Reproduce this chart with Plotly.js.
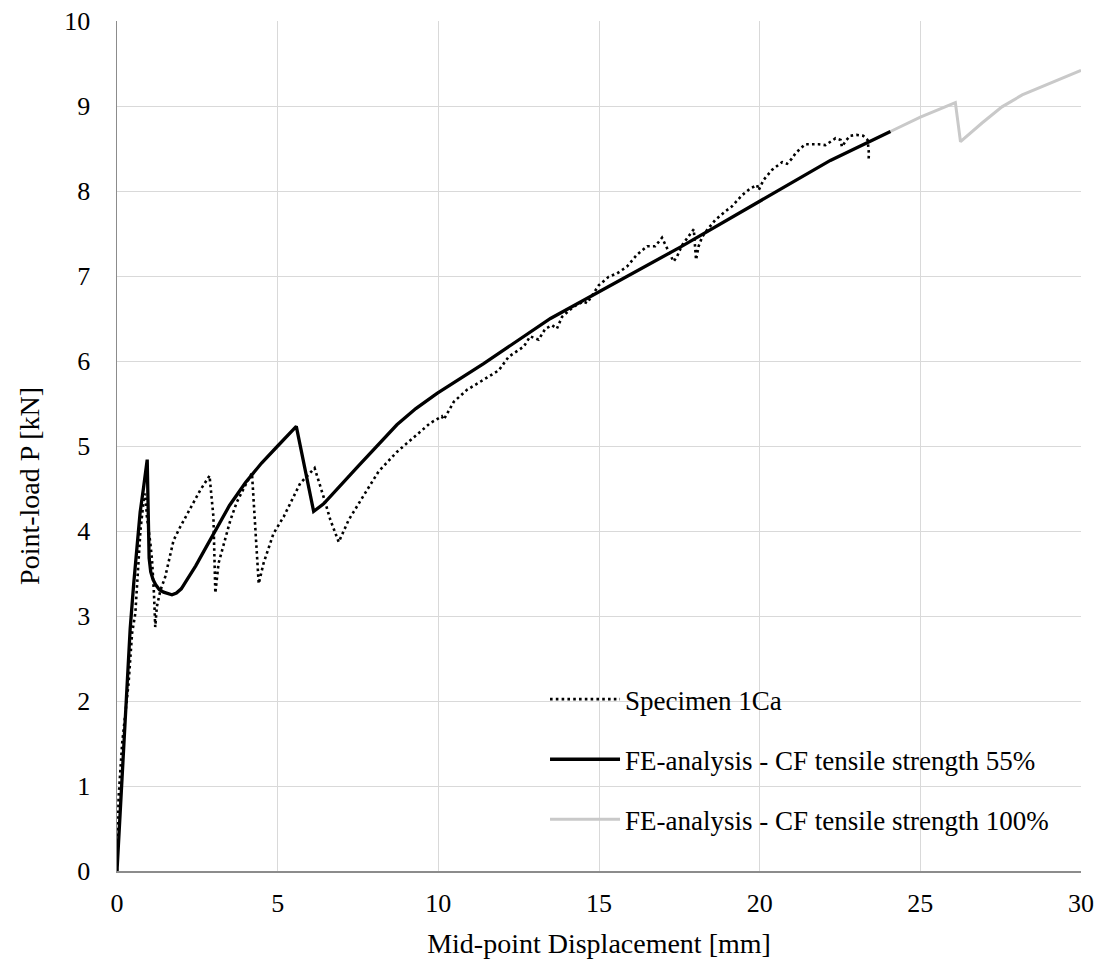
<!DOCTYPE html>
<html>
<head>
<meta charset="utf-8">
<script src="https://cdn.plot.ly/plotly-3.0.1.min.js"></script>
<style>
html,body{margin:0;padding:0;background:#fff;}
#chart{width:1099px;height:963px;}
</style>
</head>
<body>
<div id="chart"></div>
<script>
// Specimen 1Ca (test)
var specX = [0, 0.05, 0.16, 0.36, 0.47, 0.57, 0.73, 0.83, 0.88, 0.93, 1.04, 1.09, 1.15, 1.19, 1.24, 1.35, 1.50, 1.76, 1.97, 2.33, 2.59, 2.88, 3.0, 3.06, 3.16, 3.53, 3.73, 4.05, 4.20, 4.41, 4.56, 4.87, 5.19, 5.70, 6.15, 6.43, 6.64, 6.90, 7.21, 7.68, 8.14, 8.71, 9.13, 9.75, 10.11, 10.17, 10.48, 10.89, 11.41, 11.88, 12.19, 12.66, 12.86, 13.12, 13.33, 13.54, 13.69, 13.85, 14.21, 14.52, 14.63, 14.99, 15.30, 15.56, 15.87, 16.18, 16.50, 16.75, 16.96, 17.07, 17.22, 17.32, 17.43, 17.58, 17.95, 18.02, 18.10, 18.21, 18.36, 18.62, 18.93, 19.14, 19.45, 19.71, 19.92, 19.97, 20.12, 20.39, 20.70, 20.85, 21.0, 21.11, 21.27, 21.42, 21.63, 21.84, 22.05, 22.2, 22.36, 22.52, 22.56, 22.70, 22.82, 23.01, 23.22, 23.36, 23.40, 23.39];
var specY = [0, 0.87, 1.5, 2.21, 2.80, 3.03, 4.01, 4.36, 4.44, 4.17, 3.85, 3.66, 3.27, 2.87, 3.11, 3.30, 3.46, 3.89, 4.05, 4.29, 4.48, 4.65, 4.17, 3.27, 3.62, 4.13, 4.34, 4.58, 4.68, 3.38, 3.62, 3.97, 4.17, 4.56, 4.74, 4.40, 4.13, 3.87, 4.13, 4.42, 4.70, 4.93, 5.07, 5.27, 5.35, 5.31, 5.52, 5.66, 5.78, 5.89, 6.05, 6.17, 6.29, 6.25, 6.38, 6.42, 6.38, 6.52, 6.64, 6.70, 6.68, 6.89, 6.99, 7.03, 7.11, 7.25, 7.35, 7.35, 7.45, 7.36, 7.24, 7.17, 7.23, 7.36, 7.55, 7.19, 7.35, 7.46, 7.54, 7.66, 7.76, 7.82, 7.95, 8.03, 8.07, 8.01, 8.13, 8.25, 8.34, 8.32, 8.38, 8.44, 8.50, 8.55, 8.55, 8.55, 8.54, 8.58, 8.62, 8.60, 8.52, 8.60, 8.65, 8.66, 8.65, 8.60, 8.44, 8.37];

// FE-analysis - CF tensile strength 55%
var fe55X = [0, 0.41, 0.52, 0.62, 0.72, 0.83, 0.94, 0.97, 1.00, 1.05, 1.12, 1.20, 1.32, 1.45, 1.58, 1.71, 1.85, 2.0, 2.2, 2.45, 2.7, 3.0, 3.5, 4.0, 4.5, 5.0, 5.58, 6.12, 6.43, 7.5, 8.71, 9.3, 9.96, 11.41, 13.49, 17.53, 22.2, 24.07];
var fe55Y = [0, 2.85, 3.38, 3.85, 4.22, 4.52, 4.84, 4.25, 3.68, 3.52, 3.43, 3.37, 3.31, 3.28, 3.26, 3.25, 3.27, 3.32, 3.44, 3.59, 3.76, 3.97, 4.30, 4.57, 4.80, 5.00, 5.23, 4.23, 4.32, 4.76, 5.25, 5.44, 5.62, 5.97, 6.50, 7.34, 8.36, 8.70];

// FE-analysis - CF tensile strength 100% (visible continuation)
var fe100X = [24.07, 25.0, 26.09, 26.25, 26.92, 27.54, 28.17, 29.62, 30.0];
var fe100Y = [8.70, 8.87, 9.04, 8.58, 8.80, 8.99, 9.13, 9.36, 9.42];

var names = ['Specimen 1Ca', 'FE-analysis - CF tensile strength 55%', 'FE-analysis - CF tensile strength 100%'];
var xTicks = [0, 5, 10, 15, 20, 25, 30];
var yTicks = [0, 1, 2, 3, 4, 5, 6, 7, 8, 9, 10];
var xTitle = 'Mid-point Displacement [mm]';
var yTitle = 'Point-load P [kN]';

var FONT = '"Liberation Serif", "Times New Roman", Times, serif';

var traces = [
  {x: fe100X, y: fe100Y, mode: 'lines', name: names[2], legendgroup: 'c', legendrank: 3,
   line: {color: '#c9c9c9', width: 3}},
  {x: specX, y: specY, mode: 'lines', name: names[0], legendgroup: 'a', legendrank: 1,
   line: {color: '#000000', width: 2.6, dash: '2.6px,3.2px'}},
  {x: fe55X, y: fe55Y, mode: 'lines', name: names[1], legendgroup: 'b', legendrank: 2,
   line: {color: '#000000', width: 3.3}}
];

var layout = {
  width: 1099, height: 963,
  paper_bgcolor: '#ffffff', plot_bgcolor: '#ffffff',
  margin: {l: 117, r: 18, t: 21, b: 92},
  font: {family: FONT, size: 26, color: '#000'},
  showlegend: true,
  legend: {
    x: 0.444, y: 0.2305, xanchor: 'left', yanchor: 'top',
    bgcolor: 'rgba(0,0,0,0)', borderwidth: 0,
    font: {family: FONT, size: 27, color: '#000'},
    traceorder: 'grouped', tracegroupgap: 22, itemwidth: 70
  },
  xaxis: {
    range: [0, 30], tickvals: xTicks, ticktext: xTicks.map(String),
    showgrid: true, gridcolor: '#d9d9d9', gridwidth: 1,
    zeroline: false, showline: true, linecolor: '#8c8c8c', linewidth: 1.5,
    ticks: '', ticklabelstandoff: 8,
    tickfont: {family: FONT, size: 26, color: '#000'},
    title: {text: xTitle, font: {family: FONT, size: 28, color: '#000'}, standoff: 16},
    fixedrange: true
  },
  yaxis: {
    range: [0, 10], tickvals: yTicks, ticktext: yTicks.map(String),
    showgrid: true, gridcolor: '#d9d9d9', gridwidth: 1,
    zeroline: false, showline: true, linecolor: '#8c8c8c', linewidth: 1.5,
    ticks: '', ticklabelstandoff: 20,
    tickfont: {family: FONT, size: 26, color: '#000'},
    fixedrange: true
  },
  annotations: [{
    text: yTitle, textangle: -90, showarrow: false,
    xref: 'paper', yref: 'paper', x: -0.0903, y: 0.453,
    xanchor: 'center', yanchor: 'middle',
    font: {family: FONT, size: 28, color: '#000'}
  }]
};

Plotly.newPlot('chart', traces, layout, {displayModeBar: false, staticPlot: true});
</script>
</body>
</html>
